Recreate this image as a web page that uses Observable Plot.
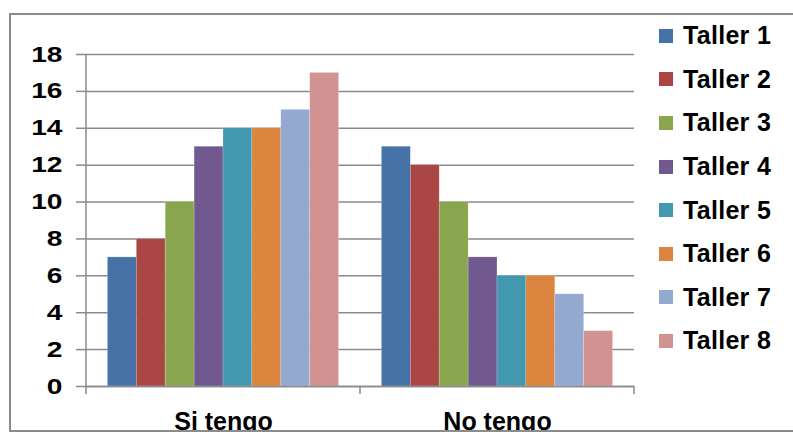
<!DOCTYPE html>
<html>
<head>
<meta charset="utf-8">
<script src="https://cdn.jsdelivr.net/npm/d3@7"></script>
<script src="https://cdn.jsdelivr.net/npm/@observablehq/plot@0.6"></script>
<style>
  html, body { margin: 0; padding: 0; background: #fff; overflow: hidden; }
  #wrap { position: relative; width: 793px; height: 432px; font-family: "Liberation Sans", Arial, sans-serif; }
  #frame { position: absolute; left: 9px; top: 13px; width: 820px; height: 419px; box-sizing: border-box; border: 2px solid #8c8c8c; pointer-events: none; }
  #legend { position: absolute; left: 659px; top: 14px; }
  #legend .row { display: flex; align-items: center; height: 43.6px; }
  #legend .sw { width: 14px; height: 14px; margin-right: 10px; }
  #legend .lab { font-weight: bold; font-size: 25px; color: #000; letter-spacing: 0.3px; }
</style>
</head>
<body>
<div id="wrap">
  <div id="chart"></div>
  <div id="frame"></div>
  <div id="legend"></div>
</div>
<script>
// Categories, workshops and counts
const categorias = ["Si tengo", "No tengo"];
const talleres = ["Taller 1", "Taller 2", "Taller 3", "Taller 4", "Taller 5", "Taller 6", "Taller 7", "Taller 8"];
const siTengo = [7, 8, 10, 13, 14, 14, 15, 17];
const noTengo = [13, 12, 10, 7, 6, 6, 5, 3];
const colores = ["#4572A7", "#AA4643", "#89A54E", "#71588F", "#4198AF", "#DB843D", "#93A9CF", "#D19392"];
const yTicks = [0, 2, 4, 6, 8, 10, 12, 14, 16, 18];

const series = [siTengo, noTengo];
const datos = categorias.flatMap((c, ci) =>
  talleres.map((t, ti) => ({categoria: c, taller: t, valor: series[ci][ti]}))
);

const gris = "#8a8a8a";

// Short marks on the category axis: the left axis line (first facet only)
// and the tick closing each category band on the right.
class BandEdge extends Plot.Mark {
  constructor(side, options = {}) {
    super(undefined, {}, options, {});
    this.side = side;
  }
  render(index, scales, values, dimensions) {
    const {x, y} = scales;
    const r = x && x.range ? x.range() : [dimensions.marginLeft, dimensions.width - dimensions.marginRight];
    const xe = this.side === "left" ? Math.min(...r) : Math.max(...r);
    const y0 = y(0);
    const yTop = this.side === "left" ? y(d3.max(yTicks)) : y0;
    const g = d3.create("svg:g");
    g.append("line")
      .attr("x1", xe).attr("x2", xe)
      .attr("y1", yTop).attr("y2", y0 + 8)
      .attr("stroke", gris).attr("stroke-width", 1.5);
    return g.node();
  }
}

const chart = Plot.plot({
  width: 793,
  height: 432,
  marginLeft: 86,
  marginRight: 159,
  marginTop: 54,
  marginBottom: 46,
  style: {
    fontFamily: "'Liberation Sans', Arial, sans-serif",
    fontSize: "22px", fontWeight: "bold", color: "#000",
    background: "transparent", overflow: "visible"
  },
  fx: {domain: categorias, padding: 0, round: false, label: null},
  x: {domain: talleres, paddingInner: 0, paddingOuter: 0.74, round: false, axis: null},
  y: {domain: [0, 18], label: null},
  color: {domain: talleres, range: colores},
  marks: [
    Plot.gridY({ticks: yTicks, stroke: gris, strokeOpacity: 1, strokeWidth: 1.5}),
    Plot.axisY({
      ticks: yTicks, tickSize: 10, tickPadding: 14, stroke: gris, strokeWidth: 1.5,
      fontSize: 22, fontWeight: "bold", fill: "#000", label: null
    }),
    Plot.barY(datos, {
      fx: "categoria", x: "taller", y: "valor", fill: "taller",
      stroke: "#fff", strokeOpacity: 0.35, strokeWidth: 0.6
    }),
    Plot.ruleY([0], {stroke: gris, strokeWidth: 1.5}),
    new BandEdge("left", {facetAnchor: "left"}),
    new BandEdge("right"),
    Plot.axisFx({
      anchor: "bottom", tickSize: 0, tickPadding: 26,
      fontSize: 25, fontWeight: "bold", fill: "#000", label: null
    })
  ]
});
document.getElementById("chart").appendChild(chart);

// Wide digits on the value axis: stretch each label about its right edge
d3.select(chart).selectAll('g[aria-label="y-axis tick label"] text').each(function () {
  const t = this.getAttribute("transform") || "";
  this.setAttribute("transform", `${t} scale(1.28,1)`);
});

// Legend
const legend = d3.select("#legend");
talleres.forEach((t, i) => {
  const row = legend.append("div").attr("class", "row");
  row.append("div").attr("class", "sw").style("background", colores[i]);
  row.append("div").attr("class", "lab").text(t);
});
</script>
</body>
</html>
